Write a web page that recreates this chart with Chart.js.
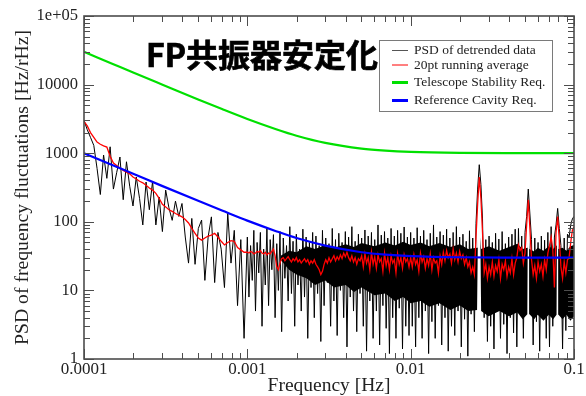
<!DOCTYPE html>
<html>
<head>
<meta charset="utf-8">
<script src="https://cdn.jsdelivr.net/npm/chart.js@4.4.0/dist/chart.umd.min.js"></script>
<style>
  html, body { margin: 0; padding: 0; background: #fff; }
  #wrap { position: relative; width: 586px; height: 396px; }
  #title { position: absolute; left: 146px; top: 37px; font: bold 32px "Noto Sans CJK JP"; line-height: 32px; color: #000; white-space: nowrap; -webkit-text-stroke: 0.7px #000; }
</style>
</head>
<body>
<div id="wrap">
  <canvas id="psdChart" width="586" height="396"></canvas>
  <div id="title">FP共振器安定化</div>
</div>
<script>
// axis decades and tick labels
const xDecades = [1e-4, 1e-3, 1e-2, 1e-1];
const xTickLabels = ["0.0001", "0.001", "0.01", "0.1"];
const yDecades = [1, 10, 100, 1000, 10000, 100000];
const yTickLabels = ["1", "10", "100", "1000", "10000", "1e+05"];

const seriesLabels = ["PSD of detrended data", "20pt running average", "Telescope Stability Req.", "Reference Cavity Req."];

// frequency grid mantissas (per decade)
const mantCoarse = [1.000,1.047,1.096,1.148,1.202,1.259,1.318,1.380,1.445,1.514,1.585,1.660,1.738,1.820,1.905,1.995,2.089,2.188,2.291,2.399,
  2.512,2.630,2.754,2.884,3.020,3.162,3.311,3.467,3.631,3.802,3.981,4.169,4.365,4.571,4.786,5.012,5.248,5.495,5.754,6.026,
  6.310,6.607,6.918,7.244,7.586,7.943,8.318,8.710,9.120,9.550];
const mantFine = [1.000,1.023,1.047,1.072,1.096,1.122,1.148,1.175,1.202,1.230,1.259,1.288,1.318,1.349,1.380,1.413,1.445,1.479,1.514,1.549,
  1.585,1.622,1.660,1.698,1.738,1.778,1.820,1.862,1.905,1.950,1.995,2.042,2.089,2.138,2.188,2.239,2.291,2.344,2.399,2.455,
  2.512,2.570,2.630,2.692,2.754,2.818,2.884,2.951,3.020,3.090,3.162,3.236,3.311,3.388,3.467,3.548,3.631,3.715,3.802,3.890,
  3.981,4.074,4.169,4.266,4.365,4.467,4.571,4.677,4.786,4.898,5.012,5.129,5.248,5.370,5.495,5.623,5.754,5.888,6.026,6.166,
  6.310,6.457,6.607,6.761,6.918,7.079,7.244,7.413,7.586,7.762,7.943,8.128,8.318,8.511,8.710,8.913,9.120,9.333,9.550,9.772];

// PSD of detrended data [Hz/rHz]
const psdLow = [3000,2200,1700,1300,600,250,940,430,1240,300,520,880,210,750,330,170,450,220,90,380,
  150,390,90,230,72,290,160,105,200,120,185,60,25,112,24,80,106,14,60,118,
  13,70,40,11,134,25,75,6,55,2.0];
const psdMid = [60,8,45,14,75,5,50,18,70,3, 40,12,80,6,55,20,65,4,48,10,
  72,2.5,58,15,45,7,85,9,52,3, 66,12,40,5,78,8,60,2,50,11,
  70,4,62,9,45,1.8,75,6,58,13, 48,3,80,7,55,2.2,68,10,50,4,
  72,1.5,60,8,85,5,52,2.5,66,9, 58,3,76,1.3,62,7,70,2,55,5,
  90,1.6,64,6,72,2.8,58,1.2,80,4, 62,2,75,5.5,68,1.4,84,3,60,2.2];
const psdHigh = [70,3,58,1.5,82,4,62,2,75,5, 55,1.2,68,3.5,90,2,60,6,72,1.6,
  64,4,78,1.3,58,3,70,2.2,85,5, 60,1.5,66,3.8,52,1.1,74,4.5,58,2.5,
  95,300,680,350,110,4,55,1.8,62,3, 50,1.4,68,5,56,2,72,3.2,48,1.2,
  60,4,66,2.4,78,1.5,80,6,62,2, 70,120,300,130,55,1.6,58,3.5,50,1.3,
  62,4,54,2,70,1.5,85,3,60,90, 157,80,45,1.4,58,2.6,66,60,90,110];
const psdLast = 120;

// 20pt running average
const avgLow = [2900,2500,2000,1700,1450,1350,1280,1230,900,720,660,610,560,530,500,450,420,390,370,340,
  310,290,260,220,180,165,150,142,132,125,118,108,96,80,68,58,54,58,62,64,
  68,60,52,46,50,53,52,42,39,36];
const avgMid = [36,35,37,36,34,35,37,36,38,35, 34,36,33,35,34,37,40,32,22,20,
  25,29,30,27,29,31,28,26,29,27, 30,26,28,25,27,29,26,28,24,27,
  25,28,24,22,20,17,19,24,28,25, 30,26,29,32,27,31,28,33,29,35,
  31,36,30,27,32,26,30,24,29,27, 32,22,34,25,30,20,36,24,31,21,
  33,26,29,19,35,23,30,20,32,25, 28,18,34,24,30,21,33,26,29,22];
const avgHigh = [30,22,33,24,28,19,35,26,31,21, 29,23,34,20,30,25,27,18,32,24,
  36,27,38,30,34,25,40,28,35,26, 37,29,33,24,30,22,26,18,22,17,
  60,180,450,220,70,18,24,15,22,17, 26,16,23,19,28,15,24,20,27,16,
  22,18,29,17,25,30,46,38,42,25, 35,90,210,80,28,17,23,15,26,19,
  24,16,28,20,35,45,60,40,11,70, 119,55,22,15,26,18,28,30,50,75];
const avgLast = 85;

// dense part of the PSD trace: upper / lower edge of the solid black band
const bandFreq = [0.0016,0.0018,0.002,0.0023,0.0026,0.003,0.0034,0.004,0.0045,0.005,0.006,0.007,0.008,0.009,0.01,
  0.0115,0.013,0.015,0.0175,0.02,0.0225,0.0255,0.0258,0.0267,0.027,0.03,0.035,0.04,0.045,0.0485,0.0518,0.0521,0.0531,
  0.0534,0.057,0.06,0.065,0.07,0.0745,0.0782,0.0786,0.08,0.0804,0.085,0.09,0.095,0.1];
const bandHi = [32,38,36,44,40,46,42,47,43,49,44,50,45,51,46,
  50,44,49,43,47,40,42,60,60,40,44,38,43,48,40,42,60,60,
  40,37,42,38,44,40,45,60,60,40,42,38,44,46];
const bandLo = [28,20,17,15,12,14,11,12,9.5,11,8.5,9,7,8,6.5,
  7,5.8,6.5,5.2,6,5,5.2,60,60,5,4.2,5,4.2,4.8,3.8,4.5,60,60,
  4.5,3.8,4.4,3.6,4.4,3.8,4.4,60,60,4.4,3.8,4.4,3.6,4.2];

// requirements
const reqFreq = [1e-4,1.5e-4,2e-4,3e-4,5e-4,7e-4,1e-3,1.5e-3,2e-3,3e-3,5e-3,7e-3,0.01,0.02,0.05,0.1];
const telescopeReq = [30000,20000,15000,10050,6080,4400,3160,2240,1800,1414,1166,1088,1044,1011,1002,1000];
const cavityReq = [1000,667,501,334,202,146,104,73,58,45,36,33.2,31.6,30.4,30.1,30];

const colors = { psd: "#000000", avg: "#ff0000", tel: "#00e000", cav: "#0000ff" };

const psdFreq = mantCoarse.map(m => m * 1e-4)
  .concat(mantFine.map(m => m * 1e-3), mantFine.map(m => m * 1e-2), [0.1]);
const psdValues = psdLow.concat(psdMid, psdHigh, [psdLast]);
const avgValues = avgLow.concat(avgMid, avgHigh, [avgLast]);

const pts = (xs, ys) => xs.map((x, i) => ({ x: x, y: ys[i] }));

const frame = {
  id: "frame",
  afterDatasetsDraw(chart) {
    const { ctx, chartArea: a, scales } = chart;
    const xs = scales.x, ys = scales.y;
    ctx.save();
    ctx.strokeStyle = "#4d4d4d";
    ctx.lineWidth = 1;
    const seg = (x1, y1, x2, y2) => { ctx.beginPath(); ctx.moveTo(x1, y1); ctx.lineTo(x2, y2); ctx.stroke(); };

    xDecades.forEach((d, i) => {
      const p = Math.round(xs.getPixelForValue(d)) + 0.5;
      seg(p, a.bottom, p, a.bottom - 10);
      seg(p, a.top, p, a.top + 10);
      if (i == xDecades.length - 1) return;
      for (let m = 2; m < 10; m++) {
        const q = Math.round(xs.getPixelForValue(d * m)) + 0.5;
        seg(q, a.bottom, q, a.bottom - 6);
        seg(q, a.top, q, a.top + 6);
      }
    });
    yDecades.forEach((d, i) => {
      const p = Math.round(ys.getPixelForValue(d)) + 0.5;
      seg(a.left, p, a.left + 10, p);
      seg(a.right, p, a.right - 10, p);
      if (i == yDecades.length - 1) return;
      for (let m = 2; m < 10; m++) {
        const q = Math.round(ys.getPixelForValue(d * m)) + 0.5;
        seg(a.left, q, a.left + 6, q);
        seg(a.right, q, a.right - 6, q);
      }
    });
    ctx.lineWidth = 1.6;
    ctx.strokeRect(a.left, a.top, a.right - a.left, a.bottom - a.top);

    // legend box
    const box = { left: 379.5, top: 40.5, w: 173, h: 71 };
    ctx.fillStyle = "#fff";
    ctx.fillRect(box.left, box.top, box.w, box.h);
    ctx.strokeStyle = "#7a7a7a";
    ctx.lineWidth = 1;
    ctx.strokeRect(box.left, box.top, box.w, box.h);
    const rows = [50.5, 65, 82.5, 100.5];
    const samples = [
      { c: "#555", w: 1 }, { c: colors.avg, w: 1 }, { c: colors.tel, w: 3 }, { c: colors.cav, w: 3 }
    ];
    ctx.font = "13.5px 'Liberation Serif'";
    ctx.textBaseline = "middle";
    seriesLabels.forEach((t, i) => {
      ctx.strokeStyle = samples[i].c;
      ctx.lineWidth = samples[i].w;
      seg(392, rows[i], 408, rows[i]);
      ctx.fillStyle = "#222";
      ctx.fillText(t, 414, rows[i]);
    });
    ctx.restore();
  }
};

new Chart(document.getElementById("psdChart"), {
  type: "line",
  data: {
    datasets: [
      { label: "band lo", data: pts(bandFreq, bandLo), borderWidth: 0, borderColor: "rgba(0,0,0,0)", fill: false, order: 6 },
      { label: "band hi", data: pts(bandFreq, bandHi), borderWidth: 0, borderColor: "rgba(0,0,0,0)", backgroundColor: "#000", fill: "-1", order: 5 },
      { label: seriesLabels[0], data: pts(psdFreq, psdValues), borderColor: colors.psd, borderWidth: 1, order: 4 },
      { label: seriesLabels[1], data: pts(psdFreq, avgValues), borderColor: colors.avg, borderWidth: 1.3, order: 3 },
      { label: seriesLabels[2], data: pts(reqFreq, telescopeReq), borderColor: colors.tel, borderWidth: 2.2, cubicInterpolationMode: "monotone", order: 2 },
      { label: seriesLabels[3], data: pts(reqFreq, cavityReq), borderColor: colors.cav, borderWidth: 2.2, cubicInterpolationMode: "monotone", order: 1 }
    ]
  },
  options: {
    responsive: false,
    animation: false,
    events: [],
    elements: { point: { radius: 0 }, line: { tension: 0 } },
    layout: { padding: { top: 16, right: 12, left: 0, bottom: 0 } },
    plugins: { legend: { display: false }, tooltip: { enabled: false } },
    scales: {
      x: {
        type: "logarithmic",
        min: 1e-4,
        max: 0.1,
        grid: { display: false, drawTicks: false },
        border: { display: false },
        afterBuildTicks: s => { s.ticks = xDecades.map(v => ({ value: v })); },
        afterFit: s => { s.height = 37; },
        ticks: {
          autoSkip: false, maxRotation: 0, padding: 0, color: "#222",
          font: { family: "Liberation Serif", size: 17 },
          callback: (v, i) => xTickLabels[i]
        },
        title: {
          display: true, text: "Frequency [Hz]", color: "#222",
          font: { family: "Liberation Serif", size: 19.5, lineHeight: 1 }, padding: { top: 0, bottom: 0 }
        }
      },
      y: {
        type: "logarithmic",
        min: 1,
        max: 100000,
        grid: { display: false, drawTicks: false },
        border: { display: false },
        afterBuildTicks: s => { s.ticks = yDecades.map(v => ({ value: v })); },
        afterFit: s => { s.width = 84; },
        ticks: {
          autoSkip: false, padding: 6, color: "#222",
          font: { family: "Liberation Serif", size: 16.5 },
          callback: (v, i) => yTickLabels[i]
        },
        title: {
          display: true, text: "PSD of frequency fluctuations [Hz/rHz]", color: "#222",
          font: { family: "Liberation Serif", size: 19.7, lineHeight: 1 }, padding: { top: 13, bottom: 0 }
        }
      }
    }
  },
  plugins: [frame]
});
</script>
</body>
</html>
